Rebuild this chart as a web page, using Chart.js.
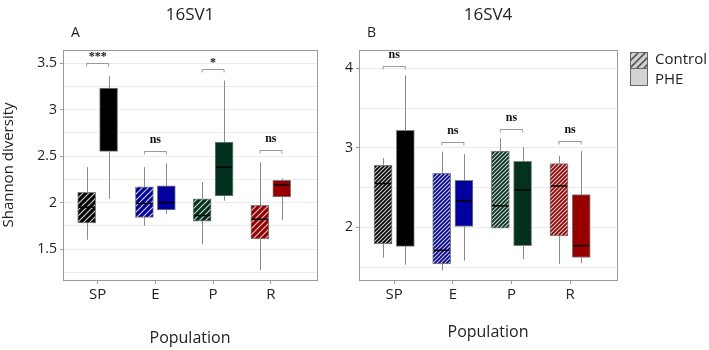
<!DOCTYPE html>
<html>
<head>
<meta charset="utf-8">
<script src="https://cdn.jsdelivr.net/npm/chart.js@4.4.0/dist/chart.umd.min.js"></script>
<style>
  body { margin: 0; background: #fff; font-family: "Open Sans", sans-serif; color: #222; }
  #wrap { position: relative; width: 709px; height: 350px; overflow: hidden; }
  .panel { position: absolute; top: 0; }
  .txt { position: absolute; white-space: nowrap; line-height: 1; }
  .key { position: absolute; width: 18px; border: 1px solid #666; box-sizing: border-box; }
</style>
</head>
<body>
<div id="wrap">
  <div class="panel" style="left:0;width:330px;height:350px"><canvas id="c1" width="330" height="350"></canvas></div>
  <div class="panel" style="left:320px;width:309px;height:350px"><canvas id="c2" width="309" height="350"></canvas></div>

  <div class="txt" style="left:190px;top:5px;font-size:17px;transform:translateX(-50%)">16SV1</div>
  <div class="txt" style="left:71px;top:25px;font-size:14px">A</div>
  <div class="txt" style="left:488px;top:5px;font-size:17px;transform:translateX(-50%)">16SV4</div>
  <div class="txt" style="left:367px;top:25px;font-size:14px">B</div>

  <div class="key" id="keyControl" style="left:630px;top:52px;height:17px"></div>
  <div class="key" style="left:630px;top:68px;height:18px;background:#d3d3d3"></div>
  <div class="txt" style="left:655px;top:51px;font-size:15px">Control</div>
  <div class="txt" style="left:655px;top:71px;font-size:15px">PHE</div>
</div>
<script>
const populations = ['SP', 'E', 'P', 'R'];
const popColors = ['#000000', '#00009e', '#01321e', '#980000'];

// [min, q1, median, q3, max] per population
const v1Control = [
  [1.60, 1.78, 1.95, 2.11, 2.38],
  [1.75, 1.84, 1.99, 2.17, 2.38],
  [1.55, 1.80, 1.86, 2.04, 2.22],
  [1.27, 1.61, 1.82, 1.97, 2.43]
];
const v1Phe = [
  [2.04, 2.55, 2.85, 3.23, 3.36],
  [1.88, 1.92, 2.00, 2.18, 2.42],
  [2.02, 2.07, 2.38, 2.65, 3.31],
  [1.81, 2.06, 2.19, 2.24, 2.26]
];
const v1Sig = ['***', 'ns', '*', 'ns'];
const v1SigY = [3.50, 2.55, 3.44, 2.57];

const v4Control = [
  [1.62, 1.79, 2.55, 2.78, 2.87],
  [1.46, 1.54, 1.71, 2.68, 2.95],
  [1.99, 1.99, 2.27, 2.96, 3.12],
  [1.54, 1.89, 2.52, 2.80, 2.90]
];
const v4Phe = [
  [1.53, 1.76, 2.30, 3.22, 3.91],
  [1.58, 2.01, 2.33, 2.59, 2.92],
  [1.60, 1.77, 2.47, 2.83, 3.01],
  [1.55, 1.62, 1.77, 2.41, 2.96]
];
const v4Sig = ['ns', 'ns', 'ns', 'ns'];
const v4SigY = [4.03, 3.07, 3.24, 3.08];

const dodge = 0.19;

function hatch(color, size) {
  const c = document.createElement('canvas');
  c.width = c.height = size;
  const g = c.getContext('2d');
  g.fillStyle = color;
  g.fillRect(0, 0, size, size);
  g.strokeStyle = 'rgba(215,215,215,0.95)';
  g.lineWidth = 1.2;
  g.beginPath();
  g.moveTo(0, size); g.lineTo(size, 0);
  g.moveTo(-1, 1); g.lineTo(1, -1);
  g.moveTo(size - 1, size + 1); g.lineTo(size + 1, size - 1);
  g.stroke();
  return g.createPattern(c, 'repeat');
}

// legend key uses the same hatch
(function () {
  const c = document.createElement('canvas');
  c.width = c.height = 7;
  const g = c.getContext('2d');
  g.fillStyle = '#d3d3d3'; g.fillRect(0, 0, 7, 7);
  g.strokeStyle = '#555'; g.lineWidth = 1.6;
  g.beginPath(); g.moveTo(0, 7); g.lineTo(7, 0); g.moveTo(-1, 1); g.lineTo(1, -1); g.moveTo(6, 8); g.lineTo(8, 6); g.stroke();
  document.getElementById('keyControl').style.background = 'url(' + c.toDataURL() + ')';
})();

const boxPlugin = {
  id: 'boxExtras',
  beforeDatasetsDraw(chart) {
    const ctx = chart.ctx, x = chart.scales.x, y = chart.scales.y;
    const stats = chart.options.plugins.boxExtras.stats;
    ctx.save();
    ctx.strokeStyle = '#8a8a8a';
    ctx.lineWidth = 1;
    stats.forEach((set, d) => {
      set.forEach((s, i) => {
        const px = Math.round(x.getPixelForValue(i + 1 + (d === 0 ? -dodge : dodge))) + 0.5;
        ctx.beginPath();
        ctx.moveTo(px, y.getPixelForValue(s[0]));
        ctx.lineTo(px, y.getPixelForValue(s[1]));
        ctx.moveTo(px, y.getPixelForValue(s[3]));
        ctx.lineTo(px, y.getPixelForValue(s[4]));
        ctx.stroke();
      });
    });
    ctx.restore();
  },
  afterDatasetsDraw(chart) {
    const ctx = chart.ctx, x = chart.scales.x, y = chart.scales.y;
    const o = chart.options.plugins.boxExtras;
    const a = chart.chartArea;
    ctx.save();
    // medians
    ctx.strokeStyle = '#000';
    ctx.lineWidth = 1.5;
    o.stats.forEach((set, d) => {
      const meta = chart.getDatasetMeta(d);
      set.forEach((s, i) => {
        const el = meta.data[i];
        const py = y.getPixelForValue(s[2]);
        ctx.beginPath();
        ctx.moveTo(el.x - el.width / 2 + 1, py);
        ctx.lineTo(el.x + el.width / 2 - 1, py);
        ctx.stroke();
      });
    });
    // significance brackets
    ctx.strokeStyle = '#9a9a9a';
    ctx.lineWidth = 1;
    ctx.fillStyle = '#111';
    ctx.font = 'bold 12px "Liberation Serif", "DejaVu Serif", serif';
    ctx.textAlign = 'center';
    ctx.textBaseline = 'alphabetic';
    o.sig.forEach((label, i) => {
      const x0 = x.getPixelForValue(i + 1 - dodge), x1 = x.getPixelForValue(i + 1 + dodge);
      const py = Math.round(y.getPixelForValue(o.sigY[i])) + 0.5;
      ctx.beginPath();
      ctx.moveTo(x0, py + 3); ctx.lineTo(x0, py); ctx.lineTo(x1, py); ctx.lineTo(x1, py + 3);
      ctx.stroke();
      ctx.fillText(label, (x0 + x1) / 2, py - (label === 'ns' ? 9 : 4));
    });
    // panel border
    ctx.strokeStyle = '#9a9a9a';
    ctx.lineWidth = 1;
    ctx.strokeRect(Math.round(a.left) + 0.5, Math.round(a.top) + 0.5, Math.round(a.right - a.left), Math.round(a.bottom - a.top));
    ctx.restore();
  }
};

function makePanel(id, control, phe, sig, sigY, yMin, yMax, yStep, yWidth, padRight, hatchSize, showTitle, xTitlePad) {
  const isMajor = v => Math.abs(v / yStep - Math.round(v / yStep)) < 1e-6;
  const toBar = (stats, off) => stats.map((s, i) => ({ x: i + 1 + off, y: [s[1], s[3]] }));
  return new Chart(document.getElementById(id), {
    type: 'bar',
    data: {
      datasets: [
        {
          label: 'Control',
          data: toBar(control, -dodge),
          backgroundColor: popColors.map(c => hatch(c, hatchSize)),
          borderColor: '#808080',
          borderWidth: 1,
          borderSkipped: false,
          barThickness: 18,
          grouped: false
        },
        {
          label: 'PHE',
          data: toBar(phe, dodge),
          backgroundColor: popColors,
          borderColor: '#808080',
          borderWidth: 1,
          borderSkipped: false,
          barThickness: 18,
          grouped: false
        }
      ]
    },
    options: {
      responsive: false,
      animation: false,
      layout: { padding: { top: 50, right: padRight, left: 0, bottom: 0 } },
      plugins: {
        legend: { display: false },
        tooltip: { enabled: false },
        boxExtras: { stats: [control, phe], sig: sig, sigY: sigY }
      },
      scales: {
        x: {
          type: 'linear',
          offset: false,
          min: 0.4,
          max: 4.8,
          afterFit: s => { s.height = 70; },
          ticks: {
            stepSize: 1,
            includeBounds: false,
            autoSkip: false,
            maxRotation: 0,
            padding: 2,
            color: '#222',
            font: { family: '"Open Sans", sans-serif', size: 15 },
            callback: v => populations[v - 1] || ''
          },
          grid: { drawOnChartArea: false, offset: false, tickLength: 4, color: '#9a9a9a' },
          border: { display: false },
          title: {
            display: true,
            text: 'Population',
            color: '#222',
            font: { family: '"Open Sans", sans-serif', size: 16 },
            padding: { top: 0, bottom: xTitlePad }
          }
        },
        y: {
          min: yMin,
          max: yMax,
          afterFit: s => { s.width = yWidth; },
          ticks: {
            stepSize: yStep / 2,
            includeBounds: false,
            autoSkip: false,
            padding: 3,
            color: '#222',
            font: { family: '"Open Sans", sans-serif', size: 14 },
            callback: v => isMajor(v) ? String(+v.toFixed(2)) : ''
          },
          grid: {
            color: '#ececec',
            tickLength: 3,
            tickColor: c => isMajor(c.tick.value) ? '#9a9a9a' : 'rgba(0,0,0,0)'
          },
          border: { display: false },
          title: {
            display: showTitle,
            text: 'Shannon diversity',
            color: '#222',
            font: { family: '"Open Sans", sans-serif', size: 15 },
            padding: { top: 0, bottom: 0 }
          }
        }
      }
    },
    plugins: [boxPlugin]
  });
}

makePanel('c1', v1Control, v1Phe, v1Sig, v1SigY, 1.167, 3.64, 0.5, 63, 13, 6, true, 2);
makePanel('c2', v4Control, v4Phe, v4Sig, v4SigY, 1.337, 4.23, 1, 39, 12, 4, false, 8);
</script>
</body>
</html>
